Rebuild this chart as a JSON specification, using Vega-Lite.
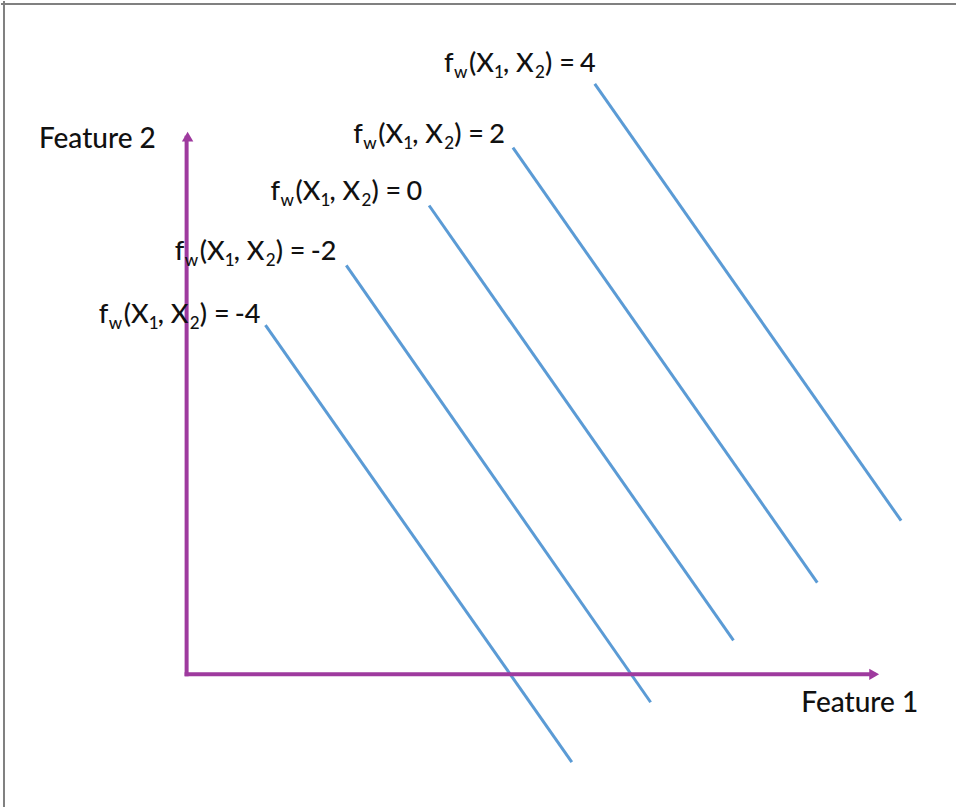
{
  "$schema": "https://vega.github.io/schema/vega-lite/v6.json",
  "width": 957,
  "height": 808,
  "padding": 0,
  "autosize": {"type": "fit", "contains": "padding"},
  "background": "white",
  "config": {"view": {"stroke": null}},
  "datasets": {
    "frame": [
      {"x": -18.6, "y": 67.2, "x2": 77.1, "y2": 67.2},
      {"x": -18.3, "y": -13.3, "x2": -18.3, "y2": 67.5}
    ],
    "axes": [
      {"x": 0, "y": 0, "x2": 0, "y2": 53.8},
      {"x": 0, "y": 0, "x2": 68.8, "y2": 0}
    ],
    "arrows": [
      {"dir": "up", "x": 0.1, "y": 53.9},
      {"dir": "right", "x": 68.9, "y": 0}
    ],
    "lines": [
      {"f": -4, "x": 7.9, "y": 35.0}, {"f": -4, "x": 38.6, "y": -8.8},
      {"f": -2, "x": 16.0, "y": 41.0}, {"f": -2, "x": 46.5, "y": -2.8},
      {"f": 0, "x": 24.3, "y": 47.0}, {"f": 0, "x": 54.8, "y": 3.4},
      {"f": 2, "x": 32.7, "y": 52.8}, {"f": 2, "x": 63.2, "y": 9.2},
      {"f": 4, "x": 40.9, "y": 59.2}, {"f": 4, "x": 71.6, "y": 15.4}
    ],
    "labels": [
      {"f": -4, "x": -8.8, "y": 35.2},
      {"f": -2, "x": -1.2, "y": 41.5},
      {"f": 0, "x": 8.4, "y": 47.6},
      {"f": 2, "x": 16.7, "y": 53.3},
      {"f": 4, "x": 25.8, "y": 60.4}
    ],
    "titles": [
      {"text": "Feature 2", "x": -14.8, "y": 52.8},
      {"text": "Feature 1", "x": 61.6, "y": -3.8}
    ]
  },
  "encoding": {
    "x": {"field": "x", "type": "quantitative", "scale": {"domain": [-18.6, 77.1], "nice": false, "zero": false}, "axis": null},
    "y": {"field": "y", "type": "quantitative", "scale": {"domain": [-13.3, 67.5], "nice": false, "zero": false}, "axis": null}
  },
  "layer": [
    {
      "data": {"name": "frame"},
      "mark": {"type": "rule", "color": "#808080", "strokeWidth": 2},
      "encoding": {"x2": {"field": "x2"}, "y2": {"field": "y2"}}
    },
    {
      "data": {"name": "lines"},
      "mark": {"type": "line", "color": "#5B9BD5", "strokeWidth": 3},
      "encoding": {"detail": {"field": "f", "type": "nominal"}}
    },
    {
      "data": {"name": "axes"},
      "mark": {"type": "rule", "color": "#9E3A9E", "strokeWidth": 4, "strokeCap": "square"},
      "encoding": {"x2": {"field": "x2"}, "y2": {"field": "y2"}}
    },
    {
      "data": {"name": "arrows"},
      "mark": {"type": "point", "filled": true, "color": "#9E3A9E", "size": 130, "opacity": 1},
      "encoding": {
        "shape": {"field": "dir", "type": "nominal", "scale": {"domain": ["up", "right"], "range": ["triangle-up", "triangle-right"]}, "legend": null}
      }
    },
    {
      "data": {"name": "titles"},
      "mark": {"type": "text", "font": "Lato", "fontSize": 28, "fontWeight": 500, "color": "#111111", "align": "left", "baseline": "alphabetic"},
      "encoding": {"text": {"field": "text"}}
    },
    {
      "data": {"name": "labels"},
      "layer": [
        {"mark": {"type": "text", "text": "f", "font": "Lato", "fontSize": 27, "fontWeight": 500, "color": "#111111", "align": "left", "baseline": "alphabetic", "dx": 0}},
        {"mark": {"type": "text", "text": "w", "font": "Lato", "fontSize": 17, "fontWeight": 500, "color": "#111111", "align": "left", "baseline": "alphabetic", "dx": 10, "dy": 6}},
        {"mark": {"type": "text", "text": "(X", "font": "Lato", "fontSize": 27, "fontWeight": 500, "color": "#111111", "align": "left", "baseline": "alphabetic", "dx": 25}},
        {"mark": {"type": "text", "text": "1", "font": "Lato", "fontSize": 17, "fontWeight": 500, "color": "#111111", "align": "left", "baseline": "alphabetic", "dx": 50, "dy": 6}},
        {"mark": {"type": "text", "text": ", X", "font": "Lato", "fontSize": 27, "fontWeight": 500, "color": "#111111", "align": "left", "baseline": "alphabetic", "dx": 59}},
        {"mark": {"type": "text", "text": "2", "font": "Lato", "fontSize": 17, "fontWeight": 500, "color": "#111111", "align": "left", "baseline": "alphabetic", "dx": 91, "dy": 6}},
        {"mark": {"type": "text", "text": ") =", "font": "Lato", "fontSize": 27, "fontWeight": 500, "color": "#111111", "align": "left", "baseline": "alphabetic", "dx": 101}},
        {
          "mark": {"type": "text", "font": "Lato", "fontSize": 27, "fontWeight": 500, "color": "#111111", "align": "left", "baseline": "alphabetic", "dx": 136},
          "encoding": {"text": {"field": "f", "type": "nominal"}}
        }
      ]
    }
  ]
}
